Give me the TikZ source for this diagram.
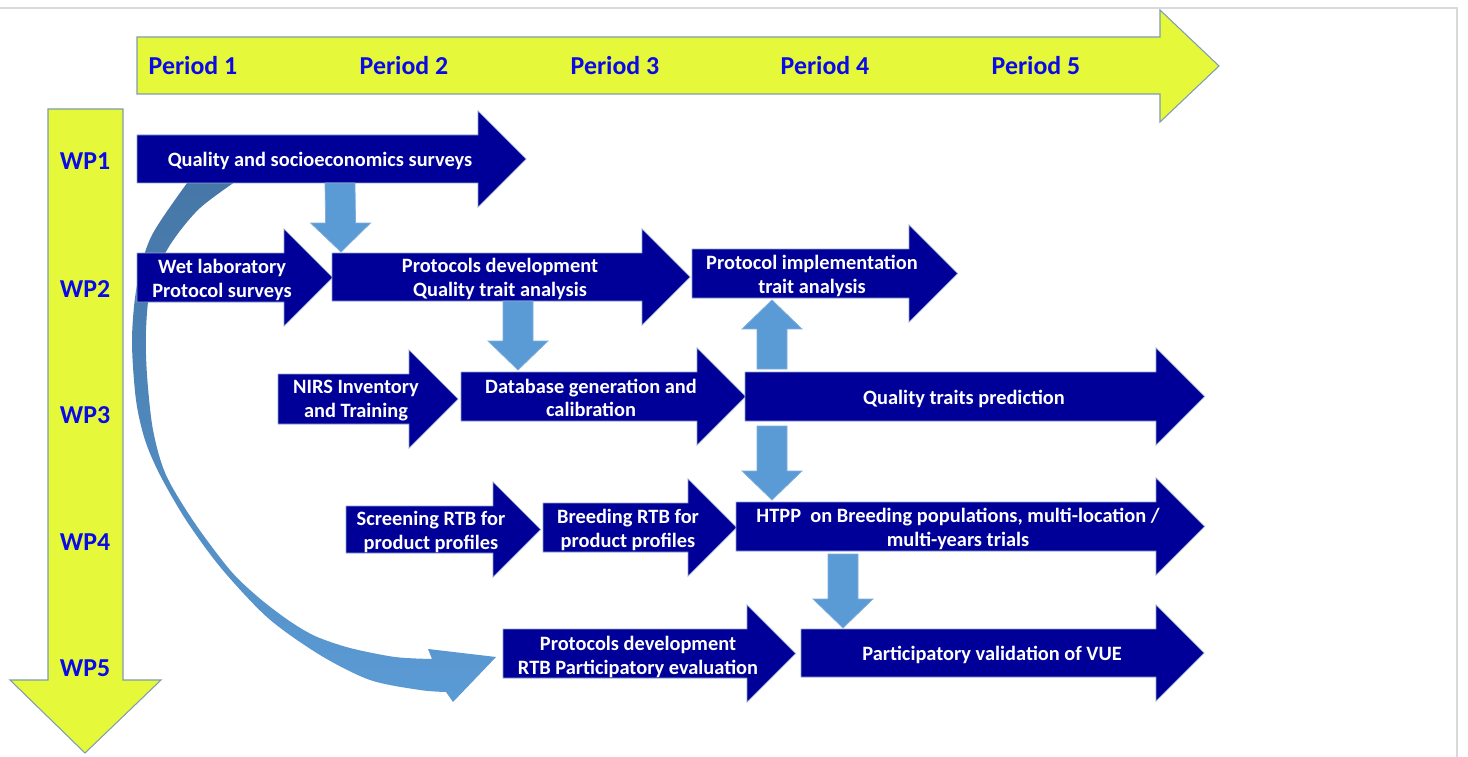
\documentclass[tikz,border=0pt]{standalone}
\usepackage{fontspec}
\setmainfont{Carlito}
\usepackage{tikz}
\usetikzlibrary{calc}
\definecolor{wpnavy}{HTML}{000099}
\definecolor{wpedge}{HTML}{8FA2CC}
\definecolor{linkblue}{HTML}{5B9BD5}
\definecolor{linkedge}{HTML}{7FAEDC}
\definecolor{tlyellow}{HTML}{E6F83A}
\definecolor{tledge}{HTML}{7F9CB3}
\definecolor{hdrblue}{HTML}{0A0AE6}
\definecolor{curvetop}{HTML}{4576A6}
\definecolor{curvebot}{HTML}{5B9BD5}
\definecolor{pagegray}{HTML}{D9D9D9}
\def\wparrow(#1,#2)(#3,#4)% Syntax: (body left,body top) (head base,body bottom)
{ \filldraw[wpshape] (#1,#2) -- (#3,#2) -- (#3,#2-24) -- ({#3+(#4-#2)/2+24},{(#2+#4)/2}) -- (#3,#4+24) -- (#3,#4) -- (#1,#4) -- cycle; }
\def\linkarrow(#1)(#2)% Syntax: (from)(to), straight up or down
{ \coordinate (hb) at ($(#2)!0.58cm!(#1)$);
  \filldraw[linkshape] ($(#1)+(-15,0)$) -- ($(hb)+(-15,0)$) -- ($(hb)+(-30,0)$) -- (#2) -- ($(hb)+(30,0)$) -- ($(hb)+(15,0)$) -- ($(#1)+(15,0)$) -- cycle; }

\begin{document}
\begin{tikzpicture}[x=0.02cm,y=-0.02cm,
	wpshape/.style={fill=wpnavy,draw=wpedge,line width=0.4pt},
	linkshape/.style={fill=linkblue,draw=linkedge,line width=0.4pt},
	tlshape/.style={fill=tlyellow,draw=tledge,line width=0.6pt},
	lbl/.style={text=white,font=\fontsize{11.6}{13.6}\selectfont\bfseries,align=center,inner sep=0pt,yshift=-1.1pt},
	hdr/.style={text=hdrblue,font=\fontsize{14.7}{17}\selectfont\bfseries,inner sep=0pt}]
	\useasboundingbox (0,0) rectangle (1468,757);
	\fill[white] (0,0) rectangle (1468,757);
	\draw[pagegray,line width=1.6pt] (0,8) -- (1457,8) -- (1457,757);
	%
	\filldraw[tlshape] (137,37) -- (1160,37) -- (1160,10) -- (1219,66) -- (1160,122) -- (1160,94) -- (137,94) -- cycle;
	\node[hdr] (p1) at (193,66) {Period 1};
	\node[hdr] (p2) at (404,66) {Period 2};
	\node[hdr] (p3) at (615,66) {Period 3};
	\node[hdr] (p4) at (825,66) {Period 4};
	\node[hdr] (p5) at (1036,66) {Period 5};
	%
	\filldraw[tlshape] (48,109) -- (123,109) -- (123,680) -- (161,680) -- (85,753) -- (10,680) -- (48,680) -- cycle;
	\node[hdr] (wp1) at (85,161) {WP1};
	\node[hdr] (wp2) at (85,289) {WP2};
	\node[hdr] (wp3) at (85,415) {WP3};
	\node[hdr] (wp4) at (85,542) {WP4};
	\node[hdr] (wp5) at (85,668) {WP5};
	%
	\shade[top color=curvetop,bottom color=curvebot]
		plot[smooth] coordinates {(193,175) (152,235) (137,285) (132,340) (136,400) (145,440) (160,475) (186,520) (221,568) (268,618) (320,655) (370,680) (420,690) (446,692)}
		-- (453,702) -- (496,657) -- (428,649) -- (432,659)
		-- plot[smooth] coordinates {(432,659) (395,657) (350,648) (315,636) (288,620) (258,597) (230,570) (194,522) (166,475) (153,430) (147,375) (146,330) (151,285) (170,245) (200,208) (245,175)}
		-- cycle;
	%
	\wparrow(137,135)(478,183)		\node[lbl] (surv) at (320,159) {Quality and socioeconomics surveys};
	\wparrow(137,253)(284,302)		\node[lbl] (wet) at (222,278) {Wet laboratory\\Protocol surveys};
	\wparrow(332,253)(642,301)		\node[lbl] (protdev) at (500,277) {Protocols development\\Quality trait analysis};
	\wparrow(692,249)(909,298)		\node[lbl] (impl) at (812,274) {Protocol implementation\\trait analysis};
	\wparrow(278,374)(409,424)		\node[lbl] (nirs) at (356,399) {NIRS Inventory\\and Training};
	\wparrow(461,372)(697,421)		\node[lbl] (dbase) at (591,396) {Database generation and\\calibration};
	\wparrow(745,372)(1156,421)		\node[lbl] (pred) at (964,397) {Quality traits prediction};
	\wparrow(346,506)(493,553)		\node[lbl] (screen) at (431,530) {Screening RTB for\\product profiles};
	\wparrow(543,503)(688,552)		\node[lbl] (breed) at (628,528) {Breeding RTB for\\product profiles};
	\wparrow(736,502)(1156,551)		\node[lbl] (htpp) at (958,527) {HTPP\ \ on Breeding populations, multi-location /\\multi-years trials};
	\wparrow(503,629)(747,678)		\node[lbl] (prtb) at (638,655) {Protocols development\\RTB Participatory evaluation};
	\wparrow(801,629)(1156,677)		\node[lbl] (pvv) at (992,653) {Participatory validation of VUE};
	%
	\coordinate (a1) at (340,183);	\coordinate (a2) at (341,252);	\linkarrow(a1)(a2)
	\coordinate (b1) at (518,301);	\coordinate (b2) at (518,370);	\linkarrow(b1)(b2)
	\coordinate (c1) at (772,369);	\coordinate (c2) at (772,300);	\linkarrow(c1)(c2)
	\coordinate (d1) at (772,426);	\coordinate (d2) at (772,500);	\linkarrow(d1)(d2)
	\coordinate (e1) at (843,554);	\coordinate (e2) at (843,628);	\linkarrow(e1)(e2)
\end{tikzpicture}
\end{document}
